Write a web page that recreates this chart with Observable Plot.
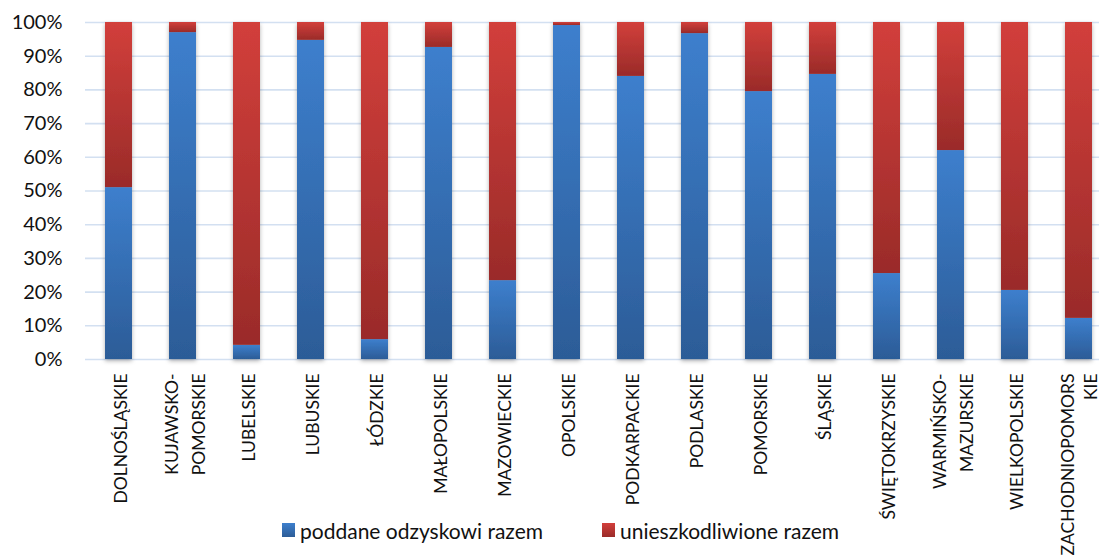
<!DOCTYPE html>
<html>
<head>
<meta charset="utf-8">
<script src="https://cdn.jsdelivr.net/npm/d3@7"></script>
<script src="https://cdn.jsdelivr.net/npm/@observablehq/plot@0.6"></script>
<style>
  html, body { margin: 0; padding: 0; background: #fff; }
  #wrap { position: relative; width: 1099px; height: 558px; overflow: hidden; font-family: Lato, "DejaVu Sans", sans-serif; }
  #legend { position: absolute; left: 0; top: 517px; width: 1099px; height: 30px; font-size: 21px; color: #111; }
  .li { position: absolute; top: 0; display: flex; align-items: center; height: 26px; }
  .sw { width: 13px; height: 14px; margin-right: 5px; }
</style>
</head>
<body>
<div id="wrap"><div id="legend"></div></div>
<script>
const regions = [
  "DOLNOŚLĄSKIE", "KUJAWSKO-\nPOMORSKIE", "LUBELSKIE", "LUBUSKIE", "ŁÓDZKIE",
  "MAŁOPOLSKIE", "MAZOWIECKIE", "OPOLSKIE", "PODKARPACKIE", "PODLASKIE",
  "POMORSKIE", "ŚLĄSKIE", "ŚWIĘTOKRZYSKIE", "WARMIŃSKO-\nMAZURSKIE", "WIELKOPOLSKIE",
  "ZACHODNIOPOMORS\nKIE"
];
const seriesNames = ["poddane odzyskowi razem", "unieszkodliwione razem"];
const odzysk = [51.0, 97.0, 4.2, 94.7, 5.9, 92.6, 23.4, 99.1, 84.0, 96.7, 79.5, 84.6, 25.5, 62.0, 20.5, 12.2];
const unieszkodliwione = [49.0, 3.0, 95.8, 5.3, 94.1, 7.4, 76.6, 0.9, 16.0, 3.3, 20.5, 15.4, 74.5, 38.0, 79.5, 87.8];
const yTicks = [0, 10, 20, 30, 40, 50, 60, 70, 80, 90, 100];

const rows = [];
regions.forEach((r, i) => {
  rows.push({region: r, series: seriesNames[0], value: odzysk[i]});
  rows.push({region: r, series: seriesNames[1], value: unieszkodliwione[i]});
});

const lastRegion = regions[regions.length - 1];
const font = "Lato, 'DejaVu Sans', sans-serif";
const chart = Plot.plot({
  width: 1099,
  height: 558,
  marginTop: 22,
  marginBottom: 199,
  marginLeft: 85,
  marginRight: -13,
  style: {fontFamily: font, color: "#111", background: "transparent", overflow: "visible"},
  x: {domain: regions, paddingInner: 0.58, paddingOuter: 0.29, axis: null},
  y: {domain: [0, 100], axis: null},
  color: {type: "ordinal", domain: seriesNames, range: ["url(#gBlue)", "url(#gRed)"]},
  marks: [
    Plot.ruleY(yTicks, {stroke: "#d3e0f1", strokeWidth: 1.6}),
    Plot.barY(rows, Plot.stackY({x: "region", y: "value", fill: "series"})),
    Plot.text(yTicks, {y: d => d, frameAnchor: "left", dx: -23, textAnchor: "end", text: d => d + "%", fontSize: 20, fill: "#111"}),
    Plot.text(regions.filter(d => d !== lastRegion), {x: d => d, y: 0, dy: 14, rotate: -90, textAnchor: "end", lineAnchor: "middle", lineHeight: 1.5, text: d => d, fontSize: 17.5, fill: "#111"}),
    Plot.text([lastRegion], {x: d => d, y: 0, dy: 14, dx: -1, rotate: -90, textAnchor: "end", lineAnchor: "middle", lineHeight: 1.3, text: d => d, fontSize: 17.5, fill: "#111"})
  ]
});

// gradients + shadow
const ns = "http://www.w3.org/2000/svg";
const defs = document.createElementNS(ns, "defs");
function grad(id, top, bottom) {
  const g = document.createElementNS(ns, "linearGradient");
  g.setAttribute("id", id);
  g.setAttribute("x1", "0"); g.setAttribute("y1", "0");
  g.setAttribute("x2", "0"); g.setAttribute("y2", "1");
  [[0, top], [1, bottom]].forEach(([o, c]) => {
    const s = document.createElementNS(ns, "stop");
    s.setAttribute("offset", o);
    s.setAttribute("stop-color", c);
    g.appendChild(s);
  });
  defs.appendChild(g);
}
grad("gBlue", "#3d7fcd", "#2c5c97");
grad("gRed", "#d23f3b", "#9a2b29");
const f = document.createElementNS(ns, "filter");
f.setAttribute("id", "shadow");
f.setAttribute("x", "-30%"); f.setAttribute("y", "-5%");
f.setAttribute("width", "160%"); f.setAttribute("height", "110%");
const ds = document.createElementNS(ns, "feDropShadow");
ds.setAttribute("dx", "0"); ds.setAttribute("dy", "2");
ds.setAttribute("stdDeviation", "2");
ds.setAttribute("flood-color", "#000"); ds.setAttribute("flood-opacity", "0.3");
f.appendChild(ds);
defs.appendChild(f);
chart.insertBefore(defs, chart.firstChild);
const barG = chart.querySelector('g[aria-label="bar"]');
if (barG) barG.setAttribute("filter", "url(#shadow)");

const wrap = document.getElementById("wrap");
wrap.insertBefore(chart, wrap.firstChild);

// legend
const legend = document.getElementById("legend");
const legendItems = [
  {label: seriesNames[0], left: 282, c1: "#3d7fcd", c2: "#2c5c97"},
  {label: seriesNames[1], left: 602, c1: "#d23f3b", c2: "#9a2b29"}
];
legendItems.forEach(it => {
  const d = document.createElement("div");
  d.className = "li";
  d.style.left = it.left + "px";
  const sw = document.createElement("div");
  sw.className = "sw";
  sw.style.background = `linear-gradient(${it.c1}, ${it.c2})`;
  const t = document.createElement("span");
  t.textContent = it.label;
  d.appendChild(sw); d.appendChild(t);
  legend.appendChild(d);
});
</script>
</body>
</html>
